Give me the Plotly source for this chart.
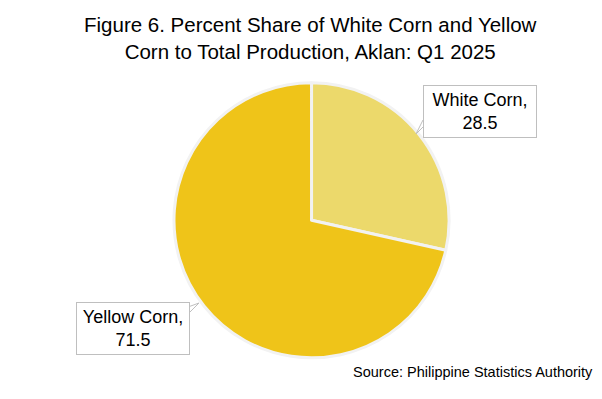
import plotly.graph_objects as go

labels = ["White Corn", "Yellow Corn"]
values = [28.5, 71.5]
colors = ["#ECD96B", "#EFC419"]
title_text = "Figure 6. Percent Share of White Corn and Yellow<br>Corn to Total Production, Aklan: Q1 2025"
source_text = "Source: Philippine Statistics Authority"

W, H = 602, 399
FONT = "Liberation Sans, Arial, sans-serif"

fig = go.Figure(go.Pie(
    labels=labels, values=values, sort=False, direction="clockwise", rotation=0,
    marker=dict(colors=colors, line=dict(color="#F2F2F2", width=3)),
    textinfo="none", hoverinfo="label+value",
    domain=dict(x=[0.289, 0.746], y=[0.103, 0.793]),
    showlegend=False,
))

def px(x, y):
    return x / W, 1 - y / H

# label boxes (positions in pixels)
box_pos = [(480, 111), (133, 328)]
for (lab, val), (cx, cy) in zip(zip(labels, values), box_pos):
    ax_, ay_ = px(cx, cy)
    fig.add_annotation(
        x=ax_, y=ay_, xref="paper", yref="paper", showarrow=False,
        xanchor="center", yanchor="middle",
        text=f"{lab},<br>{val}", align="center",
        font=dict(family=FONT, size=18, color="#000000"),
        bgcolor="white", bordercolor="#BFBFBF", borderwidth=1,
        borderpad=3, width=106, height=45,
    )

def tail(p1, p2, p3):
    pts = [px(*p) for p in (p1, p2, p3)]
    path = f"M {pts[0][0]},{pts[0][1]} L {pts[1][0]},{pts[1][1]} L {pts[2][0]},{pts[2][1]}"
    fig.add_shape(type="path", xref="paper", yref="paper", path=path,
                  line=dict(color="#BFBFBF", width=1), fillcolor="white")

tail((423, 120), (416, 134), (423, 127))
tail((188, 314), (199, 303), (188, 307))

fig.add_annotation(
    x=px(595, 372)[0], y=px(595, 372)[1], xref="paper", yref="paper",
    xanchor="right", yanchor="middle", showarrow=False,
    text=source_text, font=dict(family=FONT, size=14.5, color="#000000"),
)

fig.add_annotation(
    x=0.516, y=px(0, 38)[1], xref="paper", yref="paper",
    xanchor="center", yanchor="middle", showarrow=False,
    text=title_text, font=dict(family=FONT, size=20.5, color="#000000"),
)

fig.update_layout(
    width=W, height=H,
    margin=dict(l=0, r=0, t=0, b=0),
    paper_bgcolor="white", plot_bgcolor="white",
)

fig.write_html("out.html", config={"displayModeBar": False},
               post_script="document.body.style.margin='0';")
